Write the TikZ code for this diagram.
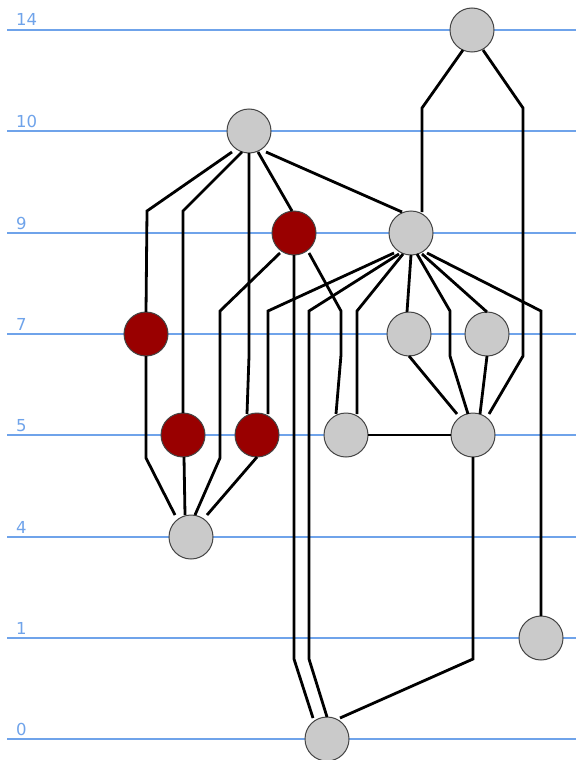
\documentclass[tikz,border=0pt]{standalone}
\usepackage{fontspec}
\setmainfont{DejaVu Sans}
\usetikzlibrary{calc}
\definecolor{lvl}{HTML}{6FA3EA}
\definecolor{gfill}{HTML}{CACACA}
\definecolor{rfill}{HTML}{990000}
\definecolor{bord}{HTML}{444444}
\begin{document}
\begin{tikzpicture}[x=1pt,y=-1pt,
  lvlline/.style={draw=lvl,line width=1.3pt},
  lvllabel/.style={anchor=base west,inner sep=0pt,text=lvl,font=\fontsize{16.5}{18}\selectfont},
  gnode/.style={circle,draw=bord,line width=1pt,fill=gfill,minimum size=44pt,inner sep=0pt},
  rnode/.style={circle,draw=bord,line width=1pt,fill=rfill,minimum size=44pt,inner sep=0pt},
  edge/.style={draw=black,line width=2.8pt,line join=miter}]
\useasboundingbox (0,0) rectangle (576,760);
% level lines
\foreach \y/\t/\n in {30/14/a,131/10/b,233/9/c,334/7/d,435/5/e,537/4/f,638/1/g,739/0/h}{
  \coordinate (l\n s) at (7,\y);
  \coordinate (l\n e) at (576,\y);
  \draw[lvlline] (l\n s) -- (l\n e);
  \node[lvllabel] (lab\n) at (16,\y-4) {\t};
}
% nodes
\node[gnode] (A14) at (472,30) {};
\node[gnode] (A10) at (249,131) {};
\node[rnode] (R9) at (294,233) {};
\node[gnode] (B9) at (411,233) {};
\node[rnode] (R7) at (146,334) {};
\node[gnode] (G7a) at (409,334) {};
\node[gnode] (G7b) at (487,334) {};
\node[rnode] (R5a) at (183,435) {};
\node[rnode] (R5b) at (257,435) {};
\node[gnode] (G5a) at (346,435) {};
\node[gnode] (G5b) at (473,435) {};
\node[gnode] (G4) at (191,537) {};
\node[gnode] (G1) at (541,638) {};
\node[gnode] (G0) at (327,739) {};
% edges
\draw[edge] ($(A14)+(-9,20)$) -- (422,108) -- ($(B9)+(11,-21)$);
\draw[edge] ($(A14)+(11,20)$) -- (523,108) -- (523,356) -- ($(G5b)+(16,-21)$);
\draw[edge] ($(A10)+(-17,21)$) -- (147,211) -- ($(R7)+(0,-22)$);
\draw[edge] ($(A10)+(-7,21)$) -- (183,211) -- ($(R5a)+(0,-22)$);
\draw[edge] ($(A10)+(0,22)$) -- (249,356) -- ($(R5b)+(-10,-21)$);
\draw[edge] ($(A10)+(9,21)$) -- ($(R9)+(-2,-22)$);
\draw[edge] ($(A10)+(17,21)$) -- ($(B9)+(-9,-21)$);
\draw[edge] ($(R9)+(-14,20)$) -- (220,311) -- (220,458) -- ($(G4)+(4,-22)$);
\draw[edge] ($(R9)+(0,22)$) -- (294,659) -- ($(G0)+(-14,-21)$);
\draw[edge] ($(R9)+(15,20)$) -- (341,311) -- (341,355) -- ($(G5a)+(-10,-21)$);
\draw[edge] ($(B9)+(-17,20)$) -- (268,311) -- ($(R5b)+(11,-21)$);
\draw[edge] ($(B9)+(-12,21)$) -- (309,311) -- (309,659) -- ($(G0)+(0,-22)$);
\draw[edge] ($(B9)+(-8,21)$) -- (357,311) -- ($(G5a)+(11,-21)$);
\draw[edge] ($(B9)+(0,22)$) -- ($(G7a)+(-2,-22)$);
\draw[edge] ($(B9)+(6,21)$) -- (450,311) -- (450,356) -- ($(G5b)+(-5,-21)$);
\draw[edge] ($(B9)+(11,21)$) -- ($(G7b)+(0,-22)$);
\draw[edge] ($(B9)+(16,20)$) -- (541,311) -- ($(G1)+(0,-22)$);
\draw[edge] ($(G7a)+(0,22)$) -- ($(G5b)+(-16,-21)$);
\draw[edge] ($(G7b)+(0,22)$) -- ($(G5b)+(7,-21)$);
\draw[edge] ($(G5a)+(22,0)$) -- ($(G5b)+(-22,0)$);
\draw[edge] ($(G5b)+(0,22)$) -- (473,659) -- ($(G0)+(13,-21)$);
\draw[edge] ($(R7)+(0,22)$) -- (146,458) -- ($(G4)+(-16,-22)$);
\draw[edge] ($(R5a)+(1,22)$) -- ($(G4)+(-6,-22)$);
\draw[edge] ($(R5b)+(0,22)$) -- ($(G4)+(16,-22)$);
\end{tikzpicture}
\end{document}
